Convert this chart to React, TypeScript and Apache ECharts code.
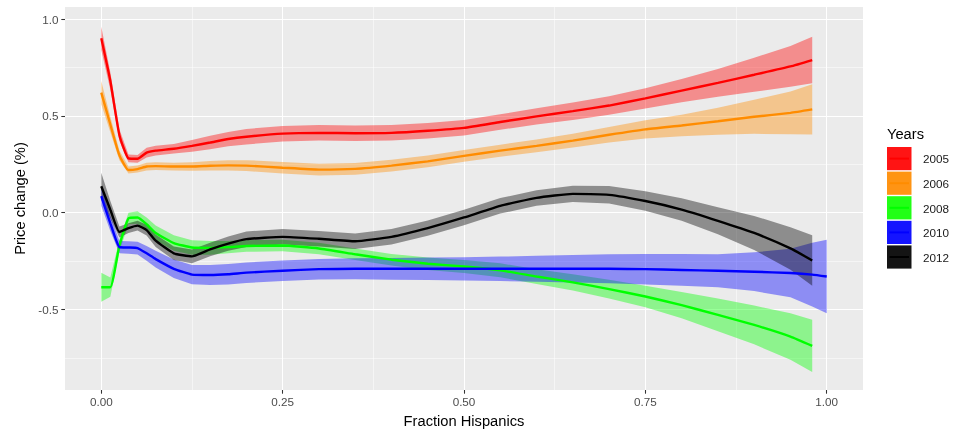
import React, { useEffect, useRef } from "react";
import * as echarts from "echarts";

const FONT = "'Liberation Sans', Arial, Helvetica, sans-serif";

// x positions (fraction Hispanics) at which the smooths were read
const xs = [0, 0.0125, 0.025, 0.0375, 0.05, 0.0625, 0.075, 0.1, 0.125, 0.15, 0.175, 0.2, 0.25, 0.3, 0.35, 0.4, 0.45, 0.5, 0.55, 0.6, 0.65, 0.7, 0.75, 0.8, 0.85, 0.9, 0.95, 0.98];
// 2010 extends a little further
const xs2010 = [...xs, 1.0];

const years = ["2005", "2006", "2008", "2010", "2012"];
const colors = ["#FF0000", "#FF8C00", "#00FF00", "#0000FF", "#000000"];
const keyColors = ["#FF1414", "#FF9414", "#22FF16", "#1414FF", "#141414"];

const y2005 = [0.9, 0.68, 0.4, 0.28, 0.278, 0.31, 0.32, 0.33, 0.345, 0.362, 0.38, 0.392, 0.408, 0.412, 0.41, 0.412, 0.423, 0.438, 0.468, 0.497, 0.524, 0.553, 0.59, 0.63, 0.67, 0.712, 0.755, 0.788];
const se2005 = [0.06, 0.045, 0.03, 0.02, 0.02, 0.025, 0.025, 0.025, 0.03, 0.035, 0.037, 0.04, 0.04, 0.04, 0.04, 0.04, 0.04, 0.04, 0.04, 0.042, 0.045, 0.048, 0.052, 0.06, 0.072, 0.088, 0.105, 0.12];

const y2006 = [0.62, 0.455, 0.296, 0.22, 0.225, 0.238, 0.24, 0.238, 0.238, 0.242, 0.244, 0.243, 0.232, 0.222, 0.226, 0.243, 0.265, 0.293, 0.32, 0.345, 0.372, 0.402, 0.43, 0.45, 0.472, 0.495, 0.515, 0.533];
const se2006 = [0.06, 0.04, 0.025, 0.018, 0.018, 0.02, 0.02, 0.02, 0.022, 0.025, 0.027, 0.028, 0.03, 0.03, 0.03, 0.03, 0.03, 0.03, 0.031, 0.033, 0.036, 0.04, 0.047, 0.056, 0.07, 0.088, 0.11, 0.13];

const y2008 = [-0.385, -0.385, -0.17, -0.03, -0.025, -0.06, -0.105, -0.157, -0.18, -0.182, -0.178, -0.172, -0.17, -0.185, -0.215, -0.243, -0.264, -0.278, -0.298, -0.33, -0.36, -0.395, -0.433, -0.478, -0.528, -0.58, -0.64, -0.688];
const se2008 = [0.075, 0.05, 0.03, 0.03, 0.032, 0.035, 0.038, 0.04, 0.038, 0.035, 0.032, 0.03, 0.03, 0.03, 0.03, 0.03, 0.032, 0.034, 0.036, 0.038, 0.042, 0.048, 0.056, 0.068, 0.084, 0.1, 0.12, 0.135];

const y2010 = [0.085, -0.055, -0.178, -0.18, -0.183, -0.21, -0.24, -0.29, -0.32, -0.322, -0.318, -0.31, -0.3, -0.292, -0.29, -0.29, -0.29, -0.29, -0.29, -0.29, -0.29, -0.29, -0.292, -0.296, -0.3, -0.305, -0.312, -0.32, -0.33];
const se2010 = [0.05, 0.04, 0.032, 0.032, 0.033, 0.038, 0.043, 0.048, 0.05, 0.052, 0.053, 0.053, 0.053, 0.053, 0.054, 0.056, 0.058, 0.06, 0.063, 0.067, 0.071, 0.075, 0.079, 0.082, 0.085, 0.1, 0.125, 0.165, 0.19];

const y2012 = [0.136, 0.015, -0.1, -0.08, -0.067, -0.09, -0.145, -0.21, -0.226, -0.19, -0.16, -0.137, -0.125, -0.135, -0.148, -0.125, -0.08, -0.025, 0.035, 0.076, 0.097, 0.092, 0.06, 0.016, -0.042, -0.105, -0.185, -0.247];
const se2012 = [0.07, 0.045, 0.028, 0.025, 0.025, 0.028, 0.032, 0.035, 0.035, 0.035, 0.037, 0.04, 0.04, 0.04, 0.04, 0.04, 0.04, 0.04, 0.04, 0.04, 0.042, 0.045, 0.05, 0.058, 0.07, 0.088, 0.11, 0.13];

const seriesX = [xs, xs, xs, xs2010, xs];
const seriesY = [y2005, y2006, y2008, y2010, y2012];
const seriesSE = [se2005, se2006, se2008, se2010, se2012];

const xMajor = [0, 0.25, 0.5, 0.75, 1.0];
const xMinor = [0.125, 0.375, 0.625, 0.875];
const yMajor = [-0.5, 0, 0.5, 1.0];
const yMinor = [-0.75, -0.25, 0.25, 0.75];

const X_MIN = -0.05;
const X_MAX = 1.05;
const Y_MIN = -0.916;
const Y_MAX = 1.062;

function buildSeries() {
  const out: any[] = [];
  years.forEach((yr, i) => {
    const x = seriesX[i];
    const y = seriesY[i];
    const se = seriesSE[i];
    const bandData = x.map((v, k) => [v, y[k] - se[k], y[k] + se[k]]);
    out.push({
      name: yr + " band",
      type: "custom",
      data: bandData,
      encode: { x: 0, y: [1, 2] },
      silent: true,
      renderItem: (params: any, api: any) => {
        if (params.dataIndex !== 0) return null;
        const upper = bandData.map((d) => api.coord([d[0], d[2]]));
        const lower = bandData.map((d) => api.coord([d[0], d[1]])).reverse();
        return {
          type: "polygon",
          shape: { points: upper.concat(lower) },
          style: { fill: colors[i], opacity: 0.4 },
        };
      },
    });
    out.push({
      name: yr,
      type: "line",
      data: x.map((v, k) => [v, y[k]]),
      showSymbol: false,
      symbol: "none",
      smooth: 0.15,
      lineStyle: { color: colors[i], width: 2.4 },
      silent: true,
    });
  });
  return out;
}

function buildLegend() {
  const children: any[] = [];
  children.push({
    type: "text",
    x: 887,
    y: 134,
    style: { text: "Years", fontSize: 14.7, fontFamily: FONT, fill: "#000", textVerticalAlign: "middle", textAlign: "left" },
  });
  years.forEach((yr, i) => {
    const top = 147 + i * 24.6;
    children.push({
      type: "rect",
      shape: { x: 887, y: top, width: 24.5, height: 23.2 },
      style: { fill: keyColors[i] },
    });
    children.push({
      type: "line",
      shape: { x1: 889.5, y1: top + 11.6, x2: 909, y2: top + 11.6 },
      style: { stroke: colors[i], lineWidth: 2 },
    });
    children.push({
      type: "text",
      x: 923,
      y: top + 11.8,
      style: { text: yr, fontSize: 11.7, fontFamily: FONT, fill: "#1A1A1A", textVerticalAlign: "middle", textAlign: "left" },
    });
  });
  return children;
}

const axisCommonX = { type: "value", min: X_MIN, max: X_MAX };
const axisCommonY = { type: "value", min: Y_MIN, max: Y_MAX };

const option: any = {
  animation: false,
  grid: { left: 65, top: 7, right: 93, bottom: 45, show: true, backgroundColor: "#EBEBEB", borderWidth: 0 },
  xAxis: [
    {
      ...axisCommonX,
      position: "bottom",
      axisLine: { show: false, onZero: false },
      axisTick: { show: true, customValues: xMajor, length: 3.7, lineStyle: { color: "#333333", width: 1.07 } },
      axisLabel: { customValues: xMajor, formatter: (v: number) => v.toFixed(2), color: "#4D4D4D", fontSize: 11.7, fontFamily: FONT, margin: 5 },
      splitLine: { show: true, lineStyle: { color: "#FFFFFF", width: 1.07 } },
    },
    {
      ...axisCommonX,
      position: "bottom",
      axisLine: { show: false, onZero: false },
      axisTick: { show: false, customValues: xMinor },
      axisLabel: { show: false, customValues: xMinor },
      splitLine: { show: true, lineStyle: { color: "#FFFFFF", width: 0.53 } },
    },
  ],
  yAxis: [
    {
      ...axisCommonY,
      position: "left",
      axisLine: { show: false, onZero: false },
      axisTick: { show: true, customValues: yMajor, length: 3.7, lineStyle: { color: "#333333", width: 1.07 } },
      axisLabel: { customValues: yMajor, formatter: (v: number) => v.toFixed(1), color: "#4D4D4D", fontSize: 11.7, fontFamily: FONT, margin: 6.5 },
      splitLine: { show: true, lineStyle: { color: "#FFFFFF", width: 1.07 } },
    },
    {
      ...axisCommonY,
      position: "left",
      axisLine: { show: false, onZero: false },
      axisTick: { show: false, customValues: yMinor },
      axisLabel: { show: false, customValues: yMinor },
      splitLine: { show: true, lineStyle: { color: "#FFFFFF", width: 0.53 } },
    },
  ],
  series: buildSeries(),
  graphic: [
    {
      type: "text",
      x: 464,
      y: 421,
      style: { text: "Fraction Hispanics", fontSize: 14.7, fontFamily: FONT, fill: "#000", textAlign: "center", textVerticalAlign: "middle" },
    },
    {
      type: "text",
      x: 20,
      y: 198.5,
      rotation: Math.PI / 2,
      style: { text: "Price change (%)", fontSize: 14.7, fontFamily: FONT, fill: "#000", textAlign: "center", textVerticalAlign: "middle" },
    },
    { type: "group", children: buildLegend() },
  ],
};

export default function App() {
  const ref = useRef<HTMLDivElement>(null);
  useEffect(() => {
    if (!ref.current) return;
    const chart = echarts.init(ref.current, null, { renderer: "svg" });
    chart.setOption(option);
    return () => chart.dispose();
  }, []);
  return <div ref={ref} style={{ position: "fixed", left: 0, top: 0, width: 956, height: 435 }} />;
}
